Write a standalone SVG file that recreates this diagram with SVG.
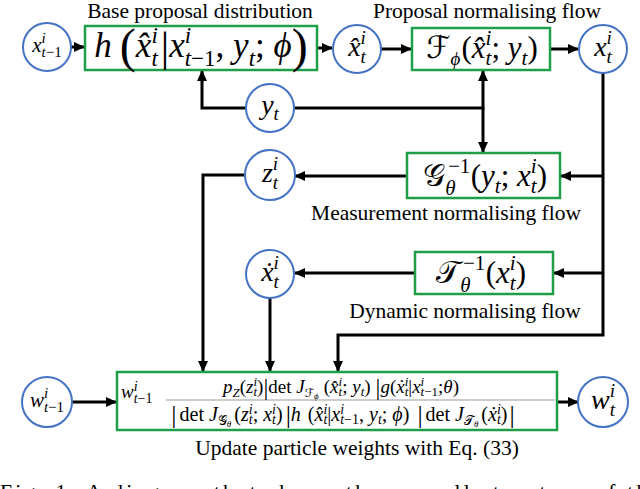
<svg xmlns="http://www.w3.org/2000/svg" width="640" height="489" viewBox="0 0 640 489">
<defs>
<style>
.m{font-family:"Liberation Serif","DejaVu Serif",serif;fill:#000}
.i{font-style:italic}
.sc{font-family:"DejaVu Serif","DejaVu Sans",serif;font-style:normal}
.lbl{font-family:"Liberation Serif","Times New Roman",serif;font-size:21.5px;text-anchor:middle;fill:#000}
.node circle{fill:#fff;stroke:#4472c4;stroke-width:2}
.box rect{fill:#fff;stroke:#1f9e48;stroke-width:2.5}
.conn path{fill:none;stroke:#000;stroke-width:3}
</style>
<marker id="ah" markerUnits="userSpaceOnUse" markerWidth="12" markerHeight="10" refX="10" refY="5" orient="auto">
<path d="M0,0 L11,5 L0,10 z" fill="#000"/>
</marker>
</defs>
<rect width="640" height="489" fill="#fff"/>

<g id="connectors" class="conn">
<path d="M71,47 H84" marker-end="url(#ah)"/>
<path d="M317,48 H332" marker-end="url(#ah)"/>
<path d="M381,49 H411" marker-end="url(#ah)"/>
<path d="M550,49 H578" marker-end="url(#ah)"/>
<path d="M246,108 H202 V71" marker-end="url(#ah)"/>
<path d="M294,108 H483 V71" marker-end="url(#ah)"/>
<path d="M483,108 V152" marker-end="url(#ah)"/>
<path d="M603,73 V335 H338 V371" marker-end="url(#ah)"/>
<path d="M603,176 H561" marker-end="url(#ah)"/>
<path d="M603,273 H554" marker-end="url(#ah)"/>
<path d="M407,176 H295" marker-end="url(#ah)"/>
<path d="M415,273 H295" marker-end="url(#ah)"/>
<path d="M246,175 H203 V371" marker-end="url(#ah)"/>
<path d="M270,298 V371" marker-end="url(#ah)"/>
<path d="M71,402 H116" marker-end="url(#ah)"/>
<path d="M557,402 H578" marker-end="url(#ah)"/>
</g>

<g id="node-xprev" class="node">
<circle cx="47" cy="47" r="24"/>
<text x="47" y="52" class="m" font-size="21" text-anchor="middle" fill="#333"><tspan class="i">x</tspan><tspan font-size="15" dy="-9" class="i">i</tspan><tspan font-size="15" dx="-4.2" dy="14" class="i">t</tspan><tspan font-size="15">−1</tspan></text>
</g>

<g id="node-h" class="box">
<rect x="85" y="26" width="232" height="44"/>
<text x="201" y="57" class="m" font-size="35" text-anchor="middle"><tspan class="i">h</tspan><tspan dx="8" font-size="48" dy="5">(</tspan><tspan dy="-5" class="i">x̂</tspan><tspan font-size="23" dy="-14" class="i">i</tspan><tspan font-size="23" dx="-6.4" dy="23" class="i">t</tspan><tspan dy="-5" font-size="42" dx="3">|</tspan><tspan dy="-4" class="i">x</tspan><tspan font-size="23" dy="-14" class="i">i</tspan><tspan font-size="23" dx="-6.4" dy="23" class="i">t</tspan><tspan font-size="23">−1</tspan><tspan dy="-9">, </tspan><tspan class="i">y</tspan><tspan font-size="23" dy="9" class="i">t</tspan><tspan dy="-9">; </tspan><tspan class="i">ϕ</tspan><tspan font-size="48" dy="5">)</tspan></text>
</g>
<text class="lbl" x="200" y="18">Base proposal distribution</text>

<g id="node-xhat" class="node">
<circle cx="357" cy="49" r="24"/>
<text x="357" y="56" class="m" font-size="28" text-anchor="middle"><tspan class="i">x̂</tspan><tspan font-size="19" dy="-12" class="i">i</tspan><tspan font-size="19" dx="-5.3" dy="19" class="i">t</tspan></text>
</g>

<g id="node-F" class="box">
<rect x="412" y="28" width="138" height="42"/>
<text x="482" y="58" class="m" font-size="31" text-anchor="middle"><tspan class="sc">ℱ</tspan><tspan font-size="19" dy="7" class="i">ϕ</tspan><tspan dy="-7" dx="1">(</tspan><tspan class="i">x̂</tspan><tspan font-size="21" dy="-13" class="i">i</tspan><tspan font-size="21" dx="-5.8" dy="20" class="i">t</tspan><tspan dy="-7">; </tspan><tspan class="i">y</tspan><tspan font-size="21" dy="7" class="i">t</tspan><tspan dy="-7">)</tspan></text>
</g>
<text class="lbl" x="487" y="18">Proposal normalising flow</text>

<g id="node-xt" class="node">
<circle cx="603" cy="49" r="24"/>
<text x="603" y="56" class="m" font-size="28" text-anchor="middle"><tspan class="i">x</tspan><tspan font-size="19" dy="-12" class="i">i</tspan><tspan font-size="19" dx="-5.3" dy="19" class="i">t</tspan></text>
</g>

<g id="node-yt" class="node">
<circle cx="270" cy="108" r="24"/>
<text x="270" y="114" class="m" font-size="28" text-anchor="middle"><tspan class="i">y</tspan><tspan font-size="19" dy="6" class="i">t</tspan></text>
</g>

<g id="node-G" class="box">
<rect x="407" y="153" width="153" height="45"/>
<text x="485" y="186" class="m" font-size="31" text-anchor="middle"><tspan class="sc">𝒢</tspan><tspan font-size="21" dy="-13" dx="3">−1</tspan><tspan font-size="21" class="i" dx="-25" dy="22">θ</tspan><tspan dy="-9" dx="15">(</tspan><tspan class="i">y</tspan><tspan font-size="21" dy="7" class="i">t</tspan><tspan dy="-7">; </tspan><tspan class="i">x</tspan><tspan font-size="21" dy="-13" class="i">i</tspan><tspan font-size="21" dx="-5.8" dy="20" class="i">t</tspan><tspan dy="-7">)</tspan></text>
</g>
<text class="lbl" x="446" y="220">Measurement normalising flow</text>

<g id="node-zt" class="node">
<circle cx="270" cy="175" r="25"/>
<text x="270" y="182" class="m" font-size="28" text-anchor="middle"><tspan class="i">z</tspan><tspan font-size="19" dy="-12" class="i">i</tspan><tspan font-size="19" dx="-5.3" dy="19" class="i">t</tspan></text>
</g>

<g id="node-T" class="box">
<rect x="415" y="252" width="138" height="42"/>
<text x="481" y="283" class="m" font-size="31" text-anchor="middle"><tspan class="sc">𝒯</tspan><tspan font-size="21" dy="-13" dx="3">−1</tspan><tspan font-size="21" class="i" dx="-25" dy="22">θ</tspan><tspan dy="-9" dx="15">(</tspan><tspan class="i">x</tspan><tspan font-size="21" dy="-13" class="i">i</tspan><tspan font-size="21" dx="-5.8" dy="20" class="i">t</tspan><tspan dy="-7">)</tspan></text>
</g>
<text class="lbl" x="465" y="318">Dynamic normalising flow</text>

<g id="node-xdot" class="node">
<circle cx="270" cy="274" r="24"/>
<text x="270" y="281" class="m" font-size="28" text-anchor="middle"><tspan class="i">ẋ</tspan><tspan font-size="19" dy="-12" class="i">i</tspan><tspan font-size="19" dx="-5.3" dy="19" class="i">t</tspan></text>
</g>

<g id="node-wprev" class="node">
<circle cx="47" cy="402" r="25"/>
<text x="47" y="407" class="m" font-size="21" text-anchor="middle"><tspan class="i">w</tspan><tspan font-size="15" dy="-9" class="i">i</tspan><tspan font-size="15" dx="-4.2" dy="14" class="i">t</tspan><tspan font-size="15">−1</tspan></text>
</g>

<g id="node-update" class="box">
<rect x="117" y="372" width="440" height="58"/>
<line x1="166" y1="400" x2="555" y2="400" stroke="#999" stroke-width="1"/>
<text x="121" y="398" class="m" font-size="19"><tspan class="i">w</tspan><tspan font-size="14" dy="-7" class="i">i</tspan><tspan font-size="14" dx="-3.9" dy="12" class="i">t</tspan><tspan font-size="14">−1</tspan></text>
<text x="341" y="393" class="m" font-size="19" text-anchor="middle"><tspan class="i">p</tspan><tspan font-size="13" dy="4" class="i">Z</tspan><tspan dy="-4">(</tspan><tspan class="i">z</tspan><tspan font-size="13" dy="-7" class="i">i</tspan><tspan font-size="13" dx="-3.6" dy="10" class="i">t</tspan><tspan dy="-3">)</tspan><tspan font-size="24" dy="2">|</tspan><tspan dy="-2">det </tspan><tspan class="i">J</tspan><tspan font-size="12" dy="4" class="sc">ℱ</tspan><tspan font-size="9" dy="2" class="i">ϕ</tspan><tspan dy="-6" dx="5">(</tspan><tspan class="i">x̂</tspan><tspan font-size="13" dy="-7" class="i">i</tspan><tspan font-size="13" dx="-3.6" dy="10" class="i">t</tspan><tspan dy="-3">; </tspan><tspan class="i">y</tspan><tspan font-size="13" dy="3" class="i">t</tspan><tspan dy="-3">)</tspan><tspan font-size="24" dy="2" dx="5">|</tspan><tspan dy="-2" class="i">g</tspan><tspan>(</tspan><tspan class="i">ẋ</tspan><tspan font-size="13" dy="-7" class="i">i</tspan><tspan font-size="13" dx="-3.6" dy="10" class="i">t</tspan><tspan dy="-3">|</tspan><tspan class="i">x</tspan><tspan font-size="13" dy="-7" class="i">i</tspan><tspan font-size="13" dx="-3.6" dy="10" class="i">t</tspan><tspan font-size="13">−1</tspan><tspan dy="-3">;</tspan><tspan class="i">θ</tspan><tspan>)</tspan></text>
<text x="343" y="421" class="m" font-size="20" text-anchor="middle"><tspan font-size="26" dy="2">|</tspan><tspan dy="-2" dx="3">det </tspan><tspan class="i">J</tspan><tspan font-size="13" dy="4" class="sc">𝒢</tspan><tspan font-size="9" dy="2" class="i">θ</tspan><tspan dy="-6" dx="3">(</tspan><tspan class="i">z</tspan><tspan font-size="14" dy="-7" class="i">i</tspan><tspan font-size="14" dx="-3.9" dy="10" class="i">t</tspan><tspan dy="-3">; </tspan><tspan class="i">x</tspan><tspan font-size="14" dy="-7" class="i">i</tspan><tspan font-size="14" dx="-3.9" dy="10" class="i">t</tspan><tspan dy="-3">)</tspan><tspan font-size="26" dy="2" dx="3">|</tspan><tspan dy="-2" class="i">h</tspan><tspan dx="7">(</tspan><tspan class="i">x̂</tspan><tspan font-size="14" dy="-7" class="i">i</tspan><tspan font-size="14" dx="-3.9" dy="10" class="i">t</tspan><tspan dy="-3">|</tspan><tspan class="i">x</tspan><tspan font-size="14" dy="-7" class="i">i</tspan><tspan font-size="14" dx="-3.9" dy="10" class="i">t</tspan><tspan font-size="14">−1</tspan><tspan dy="-3">, </tspan><tspan class="i">y</tspan><tspan font-size="14" dy="3" class="i">t</tspan><tspan dy="-3">; </tspan><tspan class="i">ϕ</tspan><tspan>)</tspan><tspan font-size="26" dy="2" dx="8">|</tspan><tspan dy="-2" dx="3">det </tspan><tspan class="i">J</tspan><tspan font-size="13" dy="4" class="sc">𝒯</tspan><tspan font-size="9" dy="2" class="i">θ</tspan><tspan dy="-6" dx="3">(</tspan><tspan class="i">ẋ</tspan><tspan font-size="14" dy="-7" class="i">i</tspan><tspan font-size="14" dx="-3.9" dy="10" class="i">t</tspan><tspan dy="-3">)</tspan><tspan font-size="26" dy="2" dx="2">|</tspan></text>
</g>
<text class="lbl" x="357" y="455">Update particle weights with Eq. (33)</text>

<g id="node-wt" class="node">
<circle cx="603" cy="402" r="25"/>
<text x="603" y="409" class="m" font-size="28" text-anchor="middle"><tspan class="i">w</tspan><tspan font-size="19" dy="-12" class="i">i</tspan><tspan font-size="19" dx="-5.3" dy="19" class="i">t</tspan></text>
</g>

<text x="0" y="499" class="m" font-size="21.5" textLength="660" lengthAdjust="spacing">Fig. 1: A diagram that shows the overall structure of the</text>
</svg>
